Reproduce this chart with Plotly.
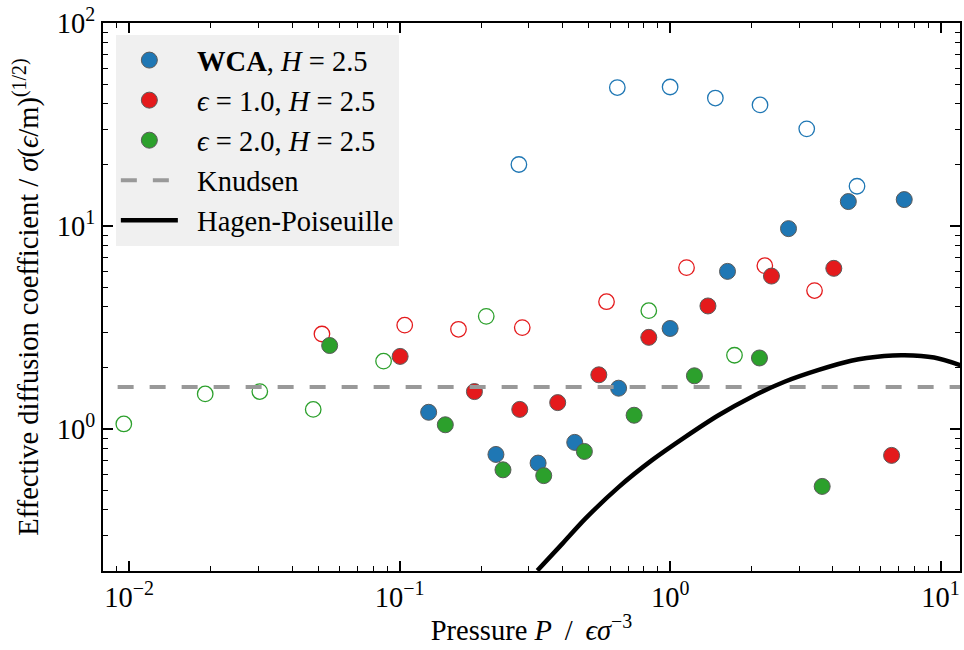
import numpy as np
import plotly.graph_objects as go

# ---- data ----
wca_filled_P = [0.128, 0.227, 0.325, 0.444, 0.645, 1.00, 1.63, 2.74, 4.56, 7.34]
wca_filled_D = [1.21, 0.75, 0.68, 0.86, 1.59, 3.13, 5.98, 9.71, 13.2, 13.5]
wca_open_P = [0.276, 0.638, 1.00, 1.47, 2.15, 3.20, 4.91]
wca_open_D = [20.1, 48.1, 48.4, 42.7, 39.5, 30.1, 15.7]

e1_filled_P = [0.1004, 0.189, 0.278, 0.384, 0.545, 0.834, 1.38, 2.37, 4.03, 6.59]
e1_filled_D = [2.28, 1.53, 1.25, 1.35, 1.85, 2.83, 4.04, 5.67, 6.19, 0.742]
e1_open_P = [0.0516, 0.1044, 0.165, 0.284, 0.582, 1.15, 2.24, 3.42]
e1_open_D = [2.94, 3.25, 3.10, 3.16, 4.24, 6.24, 6.38, 4.81]

e2_filled_P = [0.0551, 0.1475, 0.241, 0.341, 0.482, 0.736, 1.23, 2.14, 3.65]
e2_filled_D = [2.58, 1.05, 0.63, 0.59, 0.776, 1.17, 1.83, 2.24, 0.522]
e2_open_P = [0.00955, 0.0191, 0.0304, 0.0479, 0.0872, 0.209, 0.834, 1.73]
e2_open_D = [1.06, 1.49, 1.53, 1.25, 2.16, 3.59, 3.83, 2.31]

knudsen_P = [0.0069, 13.0]
knudsen_D = [1.61, 1.61]

hp_P = [0.323, 0.399, 0.486, 0.645, 0.855, 1.135, 1.51, 2.00, 2.65, 3.52, 4.67, 6.19, 7.34, 9.46, 11.9]
hp_D = [0.201, 0.272, 0.362, 0.518, 0.701, 0.913, 1.17, 1.44, 1.71, 1.95, 2.17, 2.29, 2.31, 2.25, 2.06]

x_tickvals = [0.01, 0.1, 1, 10]
x_ticktext = ["10<sup>−2</sup>", "10<sup>−1</sup>", "10<sup>0</sup>", "10<sup>1</sup>"]
y_tickvals = [1, 10, 100]
y_ticktext = ["10<sup>0</sup>", "10<sup>1</sup>", "10<sup>2</sup>"]

BLUE = "#1f77b4"
RED = "#e41a1c"
GREEN = "#2ca02c"
EDGE = "#5a5a5a"
FONT = "Liberation Serif"
SP = "\u2002"

fig = go.Figure()

series = [
    (SP + "<b>WCA</b>, <i>H</i> = 2.5", BLUE, wca_open_P, wca_open_D, wca_filled_P, wca_filled_D),
    (SP + "<i>ϵ</i> = 1.0, <i>H</i> = 2.5", RED, e1_open_P, e1_open_D, e1_filled_P, e1_filled_D),
    (SP + "<i>ϵ</i> = 2.0, <i>H</i> = 2.5", GREEN, e2_open_P, e2_open_D, e2_filled_P, e2_filled_D),
]
for i, (name, col, oP, oD, fP, fD) in enumerate(series):
    fig.add_trace(go.Scatter(
        x=oP, y=oD, mode="markers", showlegend=False, legendgroup=f"g{i}",
        marker=dict(size=15.5, color="rgba(0,0,0,0)", line=dict(color=col, width=1.3)),
    ))
    fig.add_trace(go.Scatter(
        x=fP, y=fD, mode="markers", name=name, legendgroup=f"g{i}",
        marker=dict(size=16, color=col, line=dict(color=EDGE, width=1)),
    ))

fig.add_trace(go.Scatter(
    x=knudsen_P, y=knudsen_D, mode="lines", name=SP + "Knudsen", legendgroup="g3",
    line=dict(color="#999999", width=4, dash="16px,16px"),
))
fig.add_trace(go.Scatter(
    x=hp_P, y=hp_D, mode="lines", name=SP + "Hagen-Poiseuille", legendgroup="g4",
    line=dict(color="black", width=4.5, shape="spline", smoothing=0.8),
))

minor_x = [m * 10.0 ** e for e in range(-3, 2) for m in range(2, 10)]
minor_y = [m * 10.0 ** e for e in range(-1, 2) for m in range(2, 10)]

axis_common = dict(
    type="log", showgrid=False, zeroline=False, showline=True, linecolor="black",
    linewidth=2, mirror="allticks", ticks="inside", ticklen=10, tickwidth=1.5,
    tickcolor="black", tickfont=dict(family=FONT, size=28.5, color="black"),
)

fig.update_xaxes(
    **axis_common, range=[np.log10(0.008), np.log10(11.8)],
    tickmode="array", tickvals=x_tickvals, ticktext=x_ticktext,
    minor=dict(ticks="inside", ticklen=5, tickwidth=1, tickcolor="black",
               tickmode="array", tickvals=minor_x, showgrid=False),
    title=dict(text="Pressure <i>P</i>\u2009 / \u2009<i>ϵσ</i><sup>−3</sup>",
               font=dict(family=FONT, size=28.5, color="black"), standoff=8),
)
fig.update_yaxes(
    **axis_common, range=[np.log10(0.2), 2],
    tickmode="array", tickvals=y_tickvals, ticktext=y_ticktext,
    minor=dict(ticks="inside", ticklen=5, tickwidth=1, tickcolor="black",
               tickmode="array", tickvals=minor_y, showgrid=False),
    title=dict(text="Effective diffusion coefficient / <i>σ</i>(<i>ϵ</i>/m)<sup>(1/2)</sup>",
               font=dict(family=FONT, size=28.5, color="black"), standoff=10),
)

fig.update_layout(
    width=964, height=650,
    margin=dict(l=103, r=2, t=23, b=79),
    plot_bgcolor="white", paper_bgcolor="white",
    font=dict(family=FONT, size=27, color="black"),
    legend=dict(
        x=0.015, y=0.978, xanchor="left", yanchor="top",
        bgcolor="#f0f0f0", borderwidth=0,
        font=dict(family=FONT, size=28.5, color="black"),
        tracegroupgap=0, itemwidth=57,
    ),
)

fig.write_html("out.html")
